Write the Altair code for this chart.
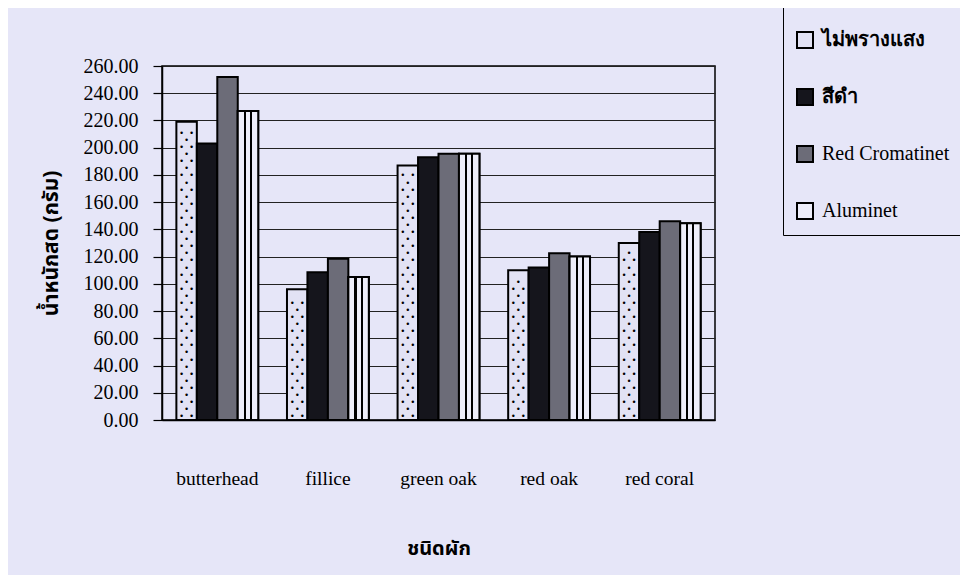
import altair as alt
import pandas as pd

categories = ["butterhead", "fillice", "green oak", "red oak", "red coral"]
series = ["ไม่พรางแสง", "สีดำ", "Red Cromatinet", "Aluminet"]
v_open = [219, 96, 187, 110, 130]
v_black = [203, 108.5, 193, 112, 138]
v_red = [252, 118.5, 195.5, 122.5, 146]
v_alu = [227, 105, 195.5, 120, 144.5]
y_ticks = [0, 20, 40, 60, 80, 100, 120, 140, 160, 180, 200, 220, 240, 260]

rows = []
for s, vals in zip(series, [v_open, v_black, v_red, v_alu]):
    for c, v in zip(categories, vals):
        rows.append({"cat": c, "series": s, "value": v})
df = pd.DataFrame(rows)

BG = "#e6e6f8"
SERIF = "Liberation Serif"
THAI = "Noto Sans Thai, Loma, Garuda, Norasi, Liberation Serif, serif"

LIGHT = "#eeeefa"
stripes = {
    "gradient": "linear", "x1": 0, "y1": 0, "x2": 1, "y2": 0,
    "stops": [
        {"offset": 0.0, "color": LIGHT},
        {"offset": 0.30, "color": LIGHT},
        {"offset": 0.30, "color": "#000000"},
        {"offset": 0.40, "color": "#000000"},
        {"offset": 0.40, "color": LIGHT},
        {"offset": 0.60, "color": LIGHT},
        {"offset": 0.60, "color": "#000000"},
        {"offset": 0.70, "color": "#000000"},
        {"offset": 0.70, "color": LIGHT},
        {"offset": 1.0, "color": LIGHT},
    ],
}

x_enc = alt.X(
    "cat:N", sort=categories,
    scale=alt.Scale(paddingInner=0.26, paddingOuter=0.13),
    axis=alt.Axis(
        title="ชนิดผัก", labelAngle=0, ticks=False, labelPadding=49,
        labelFont=SERIF, labelFontSize=19.5, labelColor="#000",
        titleFont=THAI, titleFontSize=20, titleFontWeight="bold",
        titleColor="#000", titlePadding=51,
        domainColor="#000", domainWidth=1.5,
    ),
)
xo_enc = alt.XOffset("series:N", sort=series, scale=alt.Scale(paddingInner=0))
y_enc = alt.Y(
    "value:Q", scale=alt.Scale(domain=[0, 260], nice=False),
    axis=alt.Axis(
        title="น้ำหนักสด (กรัม)", values=y_ticks, format=".2f",
        labelFont=SERIF, labelFontSize=20, labelColor="#000",
        labelPadding=15, tickSize=9, tickColor="#000", tickWidth=1.2,
        grid=True, gridColor="#222", gridWidth=1.2,
        domainColor="#000", domainWidth=1.5,
        titleFont=THAI, titleFontSize=21, titleFontWeight="bold",
        titleColor="#000", titlePadding=22,
    ),
)

bars = alt.Chart(df).mark_bar(stroke="#000", strokeWidth=2).encode(
    x=x_enc, xOffset=xo_enc, y=y_enc,
    color=alt.Color(
        "series:N", sort=series,
        scale=alt.Scale(domain=series, range=["#e2e2f4", "#15151c", "#6c6c78", LIGHT]),
        legend=alt.Legend(
            title=" ", titleFontSize=8, titlePadding=6,
            orient="none", legendX=621, legendY=-62,
            direction="vertical", symbolType="square", symbolSize=256,
            symbolStrokeColor="#000", symbolStrokeWidth=2,
            labelFont=SERIF, labelFontSize=20,
            labelFontWeight={"expr": "(datum.label === 'Red Cromatinet' || datum.label === 'Aluminet') ? 'normal' : 'bold'"},
            labelColor="#000", labelLimit=300,
            rowPadding=33, padding=12, strokeColor="#000",
            fillColor=BG, labelOffset=7,
        ),
    ),
)

alu = alt.Chart(df).transform_filter(
    alt.datum.series == "Aluminet"
).mark_bar(stroke="#000", strokeWidth=2, fill=stripes).encode(
    x=x_enc, xOffset=xo_enc, y=y_enc,
)

# dotted fill pattern for the first series, derived from each bar's value
dot_base = alt.Chart(df).transform_filter(
    alt.datum.series == series[0]
).transform_calculate(
    k="sequence(0, floor((datum.value - 3) / 5.2))"
).transform_flatten(["k"]).transform_calculate(
    value="datum.k * 5.2 + 2.8", odd="datum.k % 2"
)
dots_even_l = dot_base.transform_filter("datum.odd == 0").mark_text(
    text="•", fontSize=9, dx=-5, baseline="middle", color="#000"
).encode(x=x_enc, xOffset=xo_enc, y=y_enc)
dots_even_r = dot_base.transform_filter("datum.odd == 0").mark_text(
    text="•", fontSize=9, dx=5, baseline="middle", color="#000"
).encode(x=x_enc, xOffset=xo_enc, y=y_enc)
dots_odd = dot_base.transform_filter("datum.odd == 1").mark_text(
    text="•", fontSize=9, dx=0, baseline="middle", color="#000"
).encode(x=x_enc, xOffset=xo_enc, y=y_enc)

chart = alt.layer(bars, alu, dots_even_l, dots_even_r, dots_odd).properties(
    width=553, height=354,
    background=BG,
    autosize=alt.AutoSizeParams(type="none"),
    padding={"left": 154, "top": 58, "right": 245, "bottom": 155},
).configure_view(
    stroke="#000", strokeWidth=1.5, fill=BG,
)

chart.save("out.html", embed_options={"renderer": "svg", "actions": False})
